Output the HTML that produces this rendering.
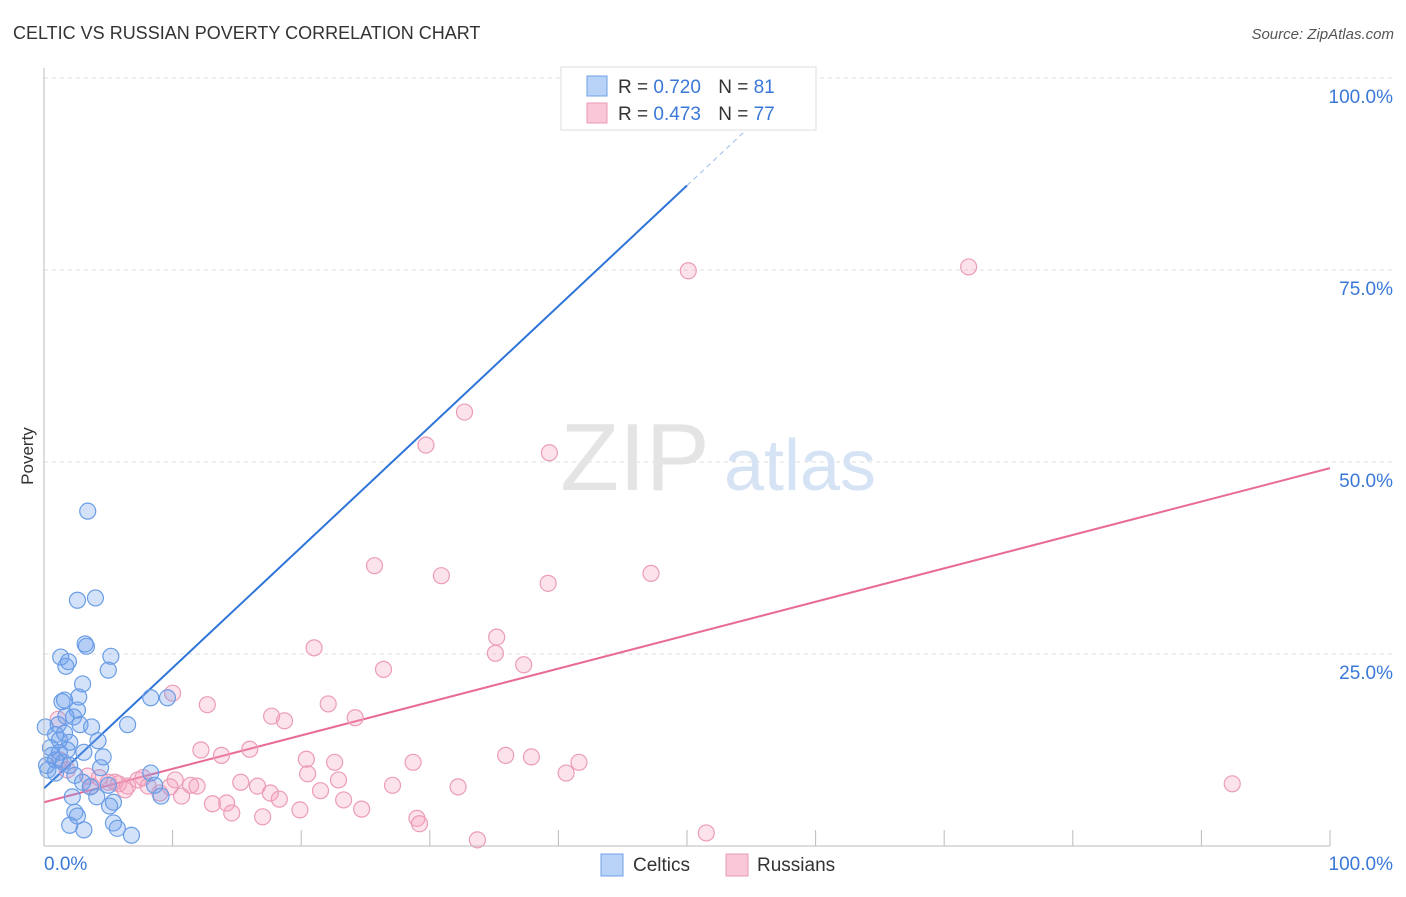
<!DOCTYPE html>
<html><head><meta charset="utf-8">
<style>
body{margin:0;background:#fff;font-family:"Liberation Sans",sans-serif;}
svg text{font-family:"Liberation Sans",sans-serif;}
</style></head>
<body>
<svg id="chart" width="1406" height="892" xmlns="http://www.w3.org/2000/svg">
<text x="13" y="39" font-size="18" fill="#333">CELTIC VS RUSSIAN POVERTY CORRELATION CHART</text>
<text x="1394" y="39" font-size="15" fill="#555" font-style="italic" text-anchor="end">Source: ZipAtlas.com</text>
<text x="33" y="456" font-size="17" fill="#333" text-anchor="middle" transform="rotate(-90 33 456)">Poverty</text>
<g id="grid"></g>
<g id="watermark">
<text x="635" y="490" font-size="96" fill="#e4e4e4" font-family="Liberation Serif,serif" text-anchor="middle">ZIP</text>
<text x="800" y="490" font-size="72" fill="#d5e3f5" text-anchor="middle">atlas</text>
</g>
<g id="lines"></g>
<g id="points"></g>
<g id="axes"></g>
<g>
<rect x="561" y="67" width="255" height="63" fill="#fff" stroke="#ddd"/>
<rect x="587" y="76" width="20" height="20" fill="#b8d3f7" stroke="#6f9fe4"/>
<rect x="587" y="103" width="20" height="20" fill="#f9c7d7" stroke="#ea9ab5"/>
<text x="618" y="93" font-size="19" fill="#333">R = <tspan fill="#3a78d8">0.720</tspan>  <tspan dx="12">N = </tspan><tspan fill="#3a78d8">81</tspan></text>
<text x="618" y="120" font-size="19" fill="#333">R = <tspan fill="#3a78d8">0.473</tspan>  <tspan dx="12">N = </tspan><tspan fill="#3a78d8">77</tspan></text>
</g>
<g>
<rect x="601" y="854" width="22" height="22" fill="#b8d3f7" stroke="#6f9fe4"/>
<text x="633" y="871" font-size="19" fill="#333">Celtics</text>
<rect x="726" y="854" width="22" height="22" fill="#f9c7d7" stroke="#ea9ab5"/>
<text x="757" y="871" font-size="19" fill="#333">Russians</text>
</g>
</svg>
<script>
const celticsX=[3.4,2.6,4.0,3.2,3.3,1.3,1.9,1.7,5.2,5.0,3.0,2.7,1.4,1.6,2.6,1.7,2.3,2.8,3.7,6.5,8.3,9.6,0.9,1.2,2.0,4.2,4.6,3.1,0.5,0.6,0.9,1.5,2.0,4.4,2.4,3.0,3.6,5.0,8.3,8.6,9.1,4.1,5.4,5.1,2.2,2.4,2.6,2.0,3.1,5.4,5.7,6.8,0.3,0.9,0.2,1.2,1.8,1.6,1.1,0.1];
const celticsY=[43.6,32.0,32.3,26.3,26.0,24.6,24.0,23.4,24.7,22.9,21.1,19.4,18.8,19.0,17.7,16.9,16.8,15.8,15.5,15.8,19.3,19.3,14.5,13.8,13.5,13.7,11.6,12.2,12.8,11.8,11.2,10.9,10.5,10.2,9.2,8.3,7.7,7.9,9.5,7.9,6.5,6.4,5.7,5.2,6.4,4.4,3.9,2.7,2.1,3.0,2.3,1.4,9.9,9.5,10.5,12.2,12.5,14.7,15.8,15.5];
const russiansX=[50.1,71.9,32.7,29.7,39.3,25.7,30.9,39.2,47.2,21.0,35.2,35.1,37.3,26.4,10.0,12.7,22.1,17.7,18.7,24.2,1.1,12.2,13.8,16.0,20.4,22.6,28.7,35.9,37.9,41.6,40.6,92.4,20.5,22.9,27.1,32.2,15.3,16.6,17.6,18.3,21.5,23.3,24.7,13.1,14.2,14.6,17.0,19.9,29.0,29.2,33.7,51.5,1.2,1.8,3.4,4.3,5.0,5.8,6.5,7.3,8.1,9.0,9.8,10.7,11.4,11.9,10.2,7.7,5.5,3.7,6.3];
const russiansY=[74.9,75.4,56.5,52.2,51.2,36.5,35.2,34.2,35.5,25.8,27.2,25.1,23.6,23.0,19.9,18.4,18.5,16.9,16.3,16.7,16.5,12.5,11.8,12.6,11.3,10.9,10.9,11.8,11.6,10.9,9.5,8.1,9.4,8.6,7.9,7.7,8.3,7.8,6.9,6.1,7.2,6.0,4.8,5.5,5.6,4.3,3.8,4.7,3.6,2.9,0.8,1.7,11.2,9.9,9.1,8.9,8.3,8.1,7.8,8.6,7.8,6.9,7.7,6.5,7.9,7.8,8.6,8.9,8.3,7.8,7.3];
const celticsTrend=[7.5,86,97];   // y at x=0, x=50 (solid end), x=57 (dashed end)
const russiansTrend=[5.7,49.2];   // y at x=0 and x=100
const yTicks=[25,50,75,100];
const yTickLabels=["25.0%","50.0%","75.0%","100.0%"];

const NS="http://www.w3.org/2000/svg";
const X=v=>44+v*12.86, Y=v=>846-v*7.68;
function mk(tag,attrs,parent){const e=document.createElementNS(NS,tag);for(const k in attrs)e.setAttribute(k,attrs[k]);parent.appendChild(e);return e;}
const grid=document.getElementById('grid'),axes=document.getElementById('axes');
yTicks.forEach((t,i)=>{
  const l=mk('line',{x1:44,x2:1394,y1:Y(t),y2:Y(t),stroke:'#ddd','stroke-dasharray':'4,4'},grid);
  
  
  const tx=mk('text',{x:1393,y:Y(t)+25,'font-size':19,fill:'#3a78d8','text-anchor':'end'},axes);
  tx.textContent=yTickLabels[i];
  
  
});
const ax=mk('line',{x1:44,x2:1330,y1:846,y2:846,stroke:'#bbb'},axes);


const ay=mk('line',{x1:44,x2:44,y1:68,y2:846,stroke:'#bbb'},axes);


for(let i=1;i<=10;i++){const t=mk('line',{x1:X(i*10),x2:X(i*10),y1:830,y2:846,stroke:'#bbb'},axes);
  
  }
const x0=mk('text',{x:44,y:870,'font-size':19,fill:'#3a78d8'},axes);x0.textContent='0.0%';


const x1=mk('text',{x:1393,y:870,'font-size':19,fill:'#3a78d8','text-anchor':'end'},axes);x1.textContent='100.0%';



const pts=document.getElementById('points');
russiansX.forEach((v,i)=>{const c=mk('circle',{cx:X(v),cy:Y(russiansY[i]),r:8,fill:'rgba(244,160,190,0.3)',stroke:'#ec9cb8','stroke-width':1.2},pts);
  
  });
celticsX.forEach((v,i)=>{const c=mk('circle',{cx:X(v),cy:Y(celticsY[i]),r:8,fill:'rgba(110,160,235,0.3)',stroke:'#6a9de6','stroke-width':1.2},pts);
  
  });

const lines=document.getElementById('lines');
const b1=mk('line',{x1:X(0),y1:Y(celticsTrend[0]),x2:X(50),y2:Y(celticsTrend[1]),stroke:'#2f74d8','stroke-width':2},lines);


const b2=mk('line',{x1:X(50),y1:Y(celticsTrend[1]),x2:X(57),y2:Y(celticsTrend[2]),stroke:'#aac6ee','stroke-width':1.2,'stroke-dasharray':'5,4'},lines);


const p1=mk('line',{x1:X(0),y1:Y(russiansTrend[0]),x2:X(100),y2:Y(russiansTrend[1]),stroke:'#e86a98','stroke-width':2},lines);


</script>
</body></html>
